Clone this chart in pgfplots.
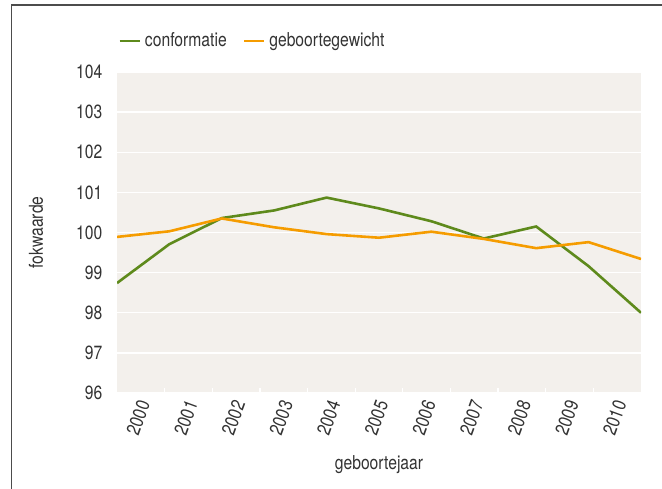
\documentclass[border=0pt]{standalone}
\usepackage{pgfplots}
\pgfplotsset{compat=1.18}
\usepackage{fontspec}
\setmainfont{TeX Gyre Heros}[FakeStretch=0.82]
\definecolor{bg}{HTML}{F3F0EC}
\definecolor{groen}{HTML}{5E8A1C}
\definecolor{oranje}{HTML}{F59C00}
\definecolor{tekst}{HTML}{333333}

\begin{document}
\fontsize{9.6}{11}\selectfont
\begin{tikzpicture}
\useasboundingbox (-58.5bp,-48bp) rectangle (272.5bp,196.5bp);
\draw[gray!60!black, line width=0.8bp] (-52.75bp,-48bp) -- (-52.75bp,194bp) -- (272.5bp,194bp);
\begin{axis}[
    at={(0,0)}, anchor=south west,
    width=262bp, height=160.5bp, scale only axis,
    font=\fontsize{9.6}{11}\selectfont\color{tekst},
    axis background/.style={fill=bg},
    axis line style={draw=none},
    xmin=0, xmax=11, ymin=96, ymax=104,
    xtick={0.5,1.5,...,10.5},
    xticklabels={2000,2001,2002,2003,2004,2005,2006,2007,2008,2009,2010},
    minor xtick={1,2,...,10},
    xtick pos=bottom, tick align=inside,
    major tick length=0pt, minor tick length=2.5bp,
    minor x tick style={white, line width=0.6bp},
    ytick={96,...,104},
    ymajorgrids, grid style={white, line width=0.7bp},
    ytick pos=left,
    /pgf/number format/assume math mode=true,
    yticklabel style={xshift=-4bp},
    x tick label style={rotate=70, anchor=east, yshift=-3bp},
    xlabel={geboortejaar}, ylabel={fokwaarde},
    xlabel style={at={(axis description cs:0.5,-0.2243)}, anchor=center},
    ylabel style={at={(axis description cs:-0.1546,0.5)}, anchor=center},
    legend columns=2,
    legend style={at={(axis description cs:0,1)}, anchor=west, xshift=0.5bp, yshift=15.5bp,
        draw=none, fill=none, inner sep=0pt, font=\fontsize{9.6}{11}\selectfont\color{tekst},
        /tikz/every even column/.append style={column sep=6bp}},
    legend image code/.code={\draw[#1] (0bp,0bp) -- (10bp,0bp);},
]
\addplot[groen, line width=1.3bp, x filter/.expression={(x-2000)*1.1}] coordinates {
    (2000,98.74) (2001,99.71) (2002,100.36) (2003,100.55) (2004,100.87)
    (2005,100.60) (2006,100.28) (2007,99.85) (2008,100.15) (2009,99.16) (2010,98.00)
};
\addlegendentry{conformatie}
\addplot[oranje, line width=1.3bp, x filter/.expression={(x-2000)*1.1}] coordinates {
    (2000,99.89) (2001,100.03) (2002,100.35) (2003,100.13) (2004,99.96)
    (2005,99.87) (2006,100.02) (2007,99.84) (2008,99.61) (2009,99.76) (2010,99.34)
};
\addlegendentry{geboortegewicht}
\end{axis}
\end{tikzpicture}
\end{document}
